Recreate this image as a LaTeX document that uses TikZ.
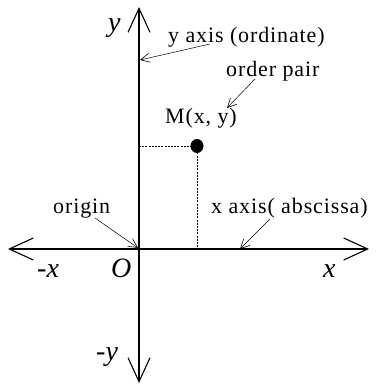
\documentclass[tikz,border=0pt]{standalone}
\usepackage{fontspec}
\setmainfont{Liberation Serif}
\newfontfamily\lblfont[LetterSpace=4]{Liberation Serif}
\usetikzlibrary{arrows.meta}
\tikzset{
  axis/.style={line width=1.3pt, -{Straight Barb[length=24pt,width=22pt,line width=1.1pt]}},
  ptr/.style={line width=0.5pt, -{Straight Barb[length=9pt,width=9pt,line width=0.6pt]}},
  guide/.style={line width=0.7pt, dash pattern=on 2pt off 1.2pt},
  lbl/.style={inner sep=0pt, font=\fontsize{22}{24}\lblfont},
  ital/.style={inner sep=0pt, font=\fontsize{28}{30}\selectfont\itshape},
}
\begin{document}
\begin{tikzpicture}[x=1pt,y=-1pt]
\useasboundingbox (0,0) rectangle (376,385);
% axes
\coordinate (O) at (139,249);
\coordinate (xr) at (369,249);
\coordinate (xl) at (8,249);
\coordinate (yt) at (139,7);
\coordinate (yb) at (139,383);
\draw[axis] (O) -- (xr);
\draw[axis] (O) -- (xl);
\draw[axis] (O) -- (yt);
\draw[axis] (O) -- (yb);
% point M
\coordinate (M) at (197,146);
\coordinate (Mx) at (197,249);
\coordinate (My) at (139,146);
\draw[guide] (My) -- (M);
\draw[guide] (M) -- (Mx);
\fill (M) ellipse (6.5pt and 7pt);
% axis labels
\node[ital, anchor=base west] (ly) at (108,32) {y};
\node[ital, anchor=base west] (lx) at (323,277) {x};
\node[ital, anchor=base west] (lmx) at (37,277) {-x};
\node[ital, anchor=base west] (lO) at (111,277) {O};
\node[ital, anchor=base west] (lmy) at (96,360) {-y};
% text labels
\node[lbl, anchor=base west] (tyax) at (168,43) {y axis (ordinate)};
\node[lbl, anchor=base west] (tpair) at (226,77) {order pair};
\node[lbl, anchor=base west] (tM) at (165,124) {M(x, y)};
\node[lbl, anchor=base west] (torig) at (53,213) {origin};
\node[lbl, anchor=base west] (txax) at (211,213) {x axis( abscissa)};
% pointers
\coordinate (a1s) at (210,44);
\coordinate (a1e) at (140,60);
\coordinate (a2s) at (255,79);
\coordinate (a2e) at (227,108);
\coordinate (a3s) at (95,218);
\coordinate (a3e) at (138,248);
\coordinate (a4s) at (270,219);
\coordinate (a4e) at (240,249);
\draw[ptr] (a1s) -- (a1e);
\draw[ptr] (a2s) -- (a2e);
\draw[ptr] (a3s) -- (a3e);
\draw[ptr] (a4s) -- (a4e);
\end{tikzpicture}
\end{document}
